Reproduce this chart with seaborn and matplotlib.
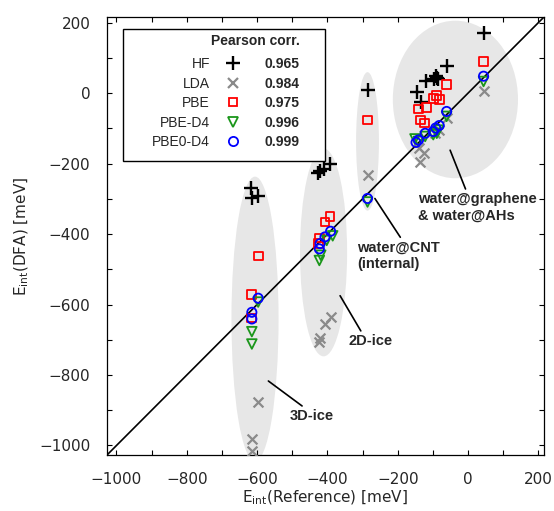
import numpy as np
import pandas as pd
import matplotlib
matplotlib.use("Agg")
import matplotlib.pyplot as plt
import seaborn as sns
from matplotlib.patches import Ellipse, Rectangle
from matplotlib.lines import Line2D
from matplotlib.ticker import MultipleLocator
from matplotlib.font_manager import FontProperties

# ---------------- data ----------------
methods = ["HF", "LDA", "PBE", "PBE-D4", "PBE0-D4"]
pearson = ["0.965", "0.984", "0.975", "0.996", "0.999"]

hf_ref = [-617, -615, -598, -428, -421, -410, -394, -286,
          -144, -135, -119, -98, -92, -88, -85, -61, 44]
hf_dfa = [-268, -299, -292, -228, -222, -216, -200, 9,
          3, -24, 33, 40, 48, 44, 40, 78, 171]

lda_ref = [-597, -615, -615, -423, -421, -407, -391, -286,
           44, -137, -125, -139, -94, -84, -61]
lda_dfa = [-878, -981, -1016, -706, -696, -655, -636, -233,
           7, -195, -171, -155, -114, -105, -70]

pbe_ref = [-597, -616, -616, -426, -423, -407, -393, -286,
           44, -61, -89, -99, -82, -118, -141, -135, -125]
pbe_dfa = [-462, -572, -638, -427, -411, -366, -351, -76,
           90, 24, -7, -16, -19, -41, -45, -76, -85]

pbed4_ref = [-597, -615, -615, -423, -419, -402, -385, -286,
             44, -61, -84, -89, -99, -122, -141, -151]
pbed4_dfa = [-593, -677, -712, -475, -460, -418, -405, -309,
             33, -66, -105, -114, -118, -123, -137, -130]

pbe0d4_ref = [-597, -615, -615, -423, -421, -407, -391, -286,
              44, -61, -82, -92, -99, -122, -141, -148]
pbe0d4_dfa = [-582, -622, -641, -442, -427, -408, -392, -299,
              48, -52, -92, -99, -109, -114, -133, -140]

# shaded groups: label, centre x, centre y, width, height
group_names = ["3D-ice", "2D-ice", "water@CNT\n(internal)", "water@graphene\n& water@AHs"]
group_cx = [-606, -411, -286, -36]
group_cy = [-641, -452, -137, -18]
group_w = [134, 134, 65, 356]
group_h = [808, 590, 393, 447]
# annotation: point on group, text anchor (left-centre), relpos of line on text
ann_xy = [(-568, -817), (-364, -575), (-265, -299), (-51, -162)]
ann_txt = [(-506, -917), (-341, -704), (-316, -462), (-142, -325)]
ann_rel = [(0.37, 1.0), (0.33, 1.0), (0.55, 1.0), (0.41, 1.0)]

# ---------------- frame ----------------
frames = []
for m, r, d in [("HF", hf_ref, hf_dfa), ("LDA", lda_ref, lda_dfa),
                ("PBE", pbe_ref, pbe_dfa), ("PBE-D4", pbed4_ref, pbed4_dfa),
                ("PBE0-D4", pbe0d4_ref, pbe0d4_dfa)]:
    frames.append(pd.DataFrame({"method": m, "ref": r, "dfa": d}))
df = pd.concat(frames, ignore_index=True)

sns.set_style("ticks")
plt.rcParams["font.family"] = ["DejaVu Sans"]

fig = plt.figure(figsize=(5.54, 5.11), dpi=100)
ax = fig.add_axes([107 / 554, 1 - 455 / 511, 437 / 554, 438 / 511])

lo, hi = -1027, 216
ax.set_xlim(lo, hi)
ax.set_ylim(lo, hi)

for cx, cy, w, h in zip(group_cx, group_cy, group_w, group_h):
    ax.add_patch(Ellipse((cx, cy), w, h, facecolor="#e7e7e7", edgecolor="none", zorder=0))

ax.axline((0, 0), slope=1, color="black", lw=1.2, zorder=2)

styles = {
    "HF": dict(marker="+", color="black", s=95, linewidth=1.7),
    "LDA": dict(marker="x", color="#8a8a8a", s=50, linewidth=1.6),
    "PBE": dict(marker="s", facecolor="none", edgecolor="#ff0000", s=40, linewidth=1.3),
    "PBE-D4": dict(marker="v", facecolor="none", edgecolor="#1a961a", s=48, linewidth=1.3),
    "PBE0-D4": dict(marker="o", facecolor="none", edgecolor="#0000ff", s=44, linewidth=1.3),
}
for m in methods:
    sub = df[df["method"] == m]
    sns.scatterplot(data=sub, x="ref", y="dfa", ax=ax, zorder=3, legend=False, **styles[m])

bold = FontProperties(family="Liberation Sans", weight="bold", size=10.5)
for name, xy, txt, rel in zip(group_names, ann_xy, ann_txt, ann_rel):
    ax.annotate(name, xy=xy, xytext=txt, textcoords="data", ha="left", va="center",
                fontproperties=bold, linespacing=1.25,
                arrowprops=dict(arrowstyle="-", color="black", lw=1.2,
                                shrinkA=0, shrinkB=0, relpos=rel))

ax.xaxis.set_major_locator(MultipleLocator(200))
ax.xaxis.set_minor_locator(MultipleLocator(100))
ax.yaxis.set_major_locator(MultipleLocator(200))
ax.yaxis.set_minor_locator(MultipleLocator(100))
ax.tick_params(which="both", direction="in", top=True, right=True, length=3.8,
               width=0.8, color="black", labelsize=11)
ax.tick_params(axis="x", which="major", pad=12)
ax.tick_params(axis="y", which="major", pad=12)
for sp in ax.spines.values():
    sp.set_linewidth(0.9)
    sp.set_color("black")

ax.set_xlabel(r"E$_{\mathrm{int}}$(Reference) [meV]", fontsize=11, labelpad=1.5)
ax.set_ylabel(r"E$_{\mathrm{int}}$(DFA) [meV]", fontsize=11, labelpad=5.5)

# ---------------- legend ----------------
handles = []
for m in methods:
    st = styles[m]
    if m in ("HF", "LDA"):
        h = Line2D([], [], linestyle="none", marker=st["marker"], markersize=np.sqrt(st["s"]),
                   markeredgewidth=st["linewidth"], color=st["color"])
    else:
        h = Line2D([], [], linestyle="none", marker=st["marker"], markersize=np.sqrt(st["s"]),
                   markeredgewidth=st["linewidth"], markerfacecolor="none",
                   markeredgecolor=st["edgecolor"])
    handles.append(h)
handles += [Line2D([], [], linestyle="none") for _ in methods]
labels = methods + pearson

lprop = FontProperties(family="Liberation Sans", size=10)
tprop = FontProperties(family="Liberation Sans", size=17.4)
leg = ax.legend(handles, labels, ncol=2, markerfirst=False, title=" ",
                title_fontproperties=tprop, prop=lprop,
                loc="upper left", bbox_to_anchor=(0.0998, 0.9740), borderaxespad=0,
                frameon=False, handlelength=1.0, handletextpad=1.15, columnspacing=1.8,
                labelspacing=0.392, borderpad=0.1)
leg.set_zorder(6)
for t in leg.get_texts()[len(methods):]:
    t.set_fontweight("bold")

# legend frame
x0 = (122.7 - 107) / 437
x1 = (325 - 107) / 437
y1 = 1 - (29.3 - 17) / 438
y0 = 1 - (161 - 17) / 438
ax.add_patch(Rectangle((x0, y0), x1 - x0, y1 - y0, transform=ax.transAxes,
                       facecolor="white", edgecolor="black", lw=1.0, zorder=5,
                       clip_on=False))

fig.canvas.draw()
r = fig.canvas.get_renderer()
right = max(t.get_window_extent(r).x1 for t in leg.get_texts()[len(methods):])
tb = leg.get_title().get_window_extent(r)
W, H = fig.bbox.width, fig.bbox.height
bold10 = FontProperties(family="Liberation Sans", weight="bold", size=10)
fig.text(right / W, (tb.y0 + tb.y1) / 2 / H, "Pearson corr.", ha="right", va="center",
         fontproperties=bold10, zorder=10)

fig.savefig("out.png", dpi=100)
